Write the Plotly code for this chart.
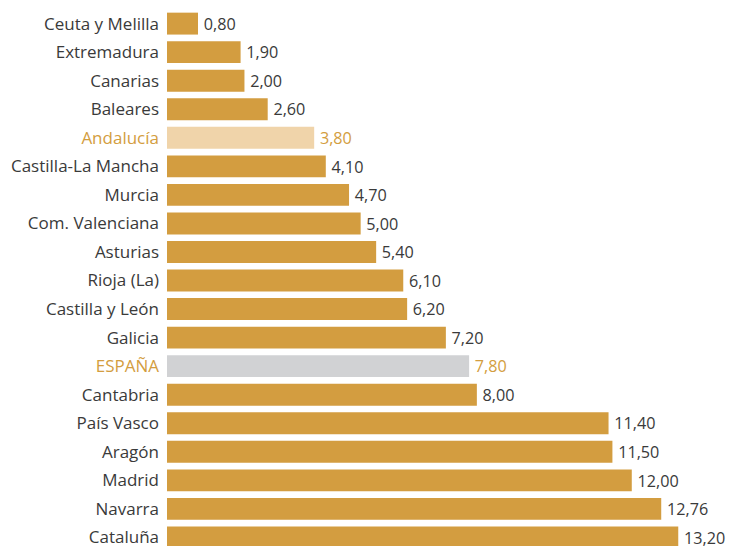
import plotly.graph_objects as go

regions = ["Ceuta y Melilla", "Extremadura", "Canarias", "Baleares", "Andalucía",
           "Castilla-La Mancha", "Murcia", "Com. Valenciana", "Asturias", "Rioja (La)",
           "Castilla y León", "Galicia", "ESPAÑA", "Cantabria", "País Vasco",
           "Aragón", "Madrid", "Navarra", "Cataluña"]
values = [0.80, 1.90, 2.00, 2.60, 3.80, 4.10, 4.70, 5.00, 5.40, 6.10,
          6.20, 7.20, 7.80, 8.00, 11.40, 11.50, 12.00, 12.76, 13.20]

GOLD = "#D39D40"
LIGHT_GOLD = "#F0D4AA"
GREY = "#D1D2D4"
TEXT = "#3A3A3A"

bar_colors = []
label_colors = []
for r in regions:
    if r == "Andalucía":
        bar_colors.append(LIGHT_GOLD)
        label_colors.append(GOLD)
    elif r == "ESPAÑA":
        bar_colors.append(GREY)
        label_colors.append(GOLD)
    else:
        bar_colors.append(GOLD)
        label_colors.append(TEXT)

tick_text = [f'<span style="color:{c}">{r}</span>' for r, c in zip(regions, label_colors)]

# thin space keeps the value labels a little away from the bar ends
value_text = ["\u2009" + f"{v:.2f}".replace(".", ",") for v in values]

fig = go.Figure(go.Bar(
    x=values,
    y=regions,
    orientation="h",
    marker=dict(color=bar_colors, line=dict(width=0)),
    text=value_text,
    textposition="outside",
    textfont=dict(color=label_colors, size=17, family="Open Sans"),
    cliponaxis=False,
))

fig.update_layout(
    width=729,
    height=548,
    margin=dict(l=167, r=0, t=0, b=0),
    paper_bgcolor="white",
    plot_bgcolor="white",
    bargap=0.232,
    showlegend=False,
    font=dict(family="Open Sans", size=17, color=TEXT),
    xaxis=dict(range=[0, 14.51], visible=False, showgrid=False, zeroline=False),
    yaxis=dict(
        range=[18.3, -0.827],
        tickmode="array",
        tickvals=regions,
        ticktext=tick_text,
        showgrid=False,
        zeroline=False,
        showline=False,
        ticks="",
        ticklabelstandoff=7,
    ),
)

fig.write_html("out.html")
